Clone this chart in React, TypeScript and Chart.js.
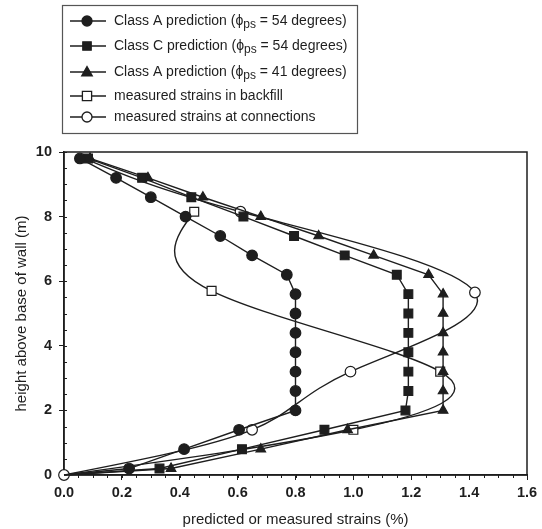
import React, { useEffect, useRef } from "react";
import { Chart, registerables } from "chart.js";

Chart.register(...registerables);

// ---- data ----
const predHeights = [9.8, 9.2, 8.6, 8.0, 7.4, 6.8, 6.2, 5.6, 5.0, 4.4, 3.8, 3.2, 2.6, 2.0, 1.4, 0.8, 0.2, 0];
const classA54 = [0.055, 0.18, 0.3, 0.42, 0.54, 0.65, 0.77, 0.8, 0.8, 0.8, 0.8, 0.8, 0.8, 0.8, 0.605, 0.415, 0.225, 0];
const classC54 = [0.083, 0.27, 0.44, 0.62, 0.795, 0.97, 1.15, 1.19, 1.19, 1.19, 1.19, 1.19, 1.19, 1.18, 0.9, 0.615, 0.33, 0];
const classA41 = [0.09, 0.29, 0.48, 0.68, 0.88, 1.07, 1.26, 1.31, 1.31, 1.31, 1.31, 1.31, 1.31, 1.31, 0.98, 0.68, 0.37, 0];

const backfillStrains = [0, 1.0, 1.3, 0.51, 0.45];
const backfillHeights = [0, 1.4, 3.2, 5.7, 8.15];

const connStrains = [0, 0.65, 0.99, 1.42, 0.61, 0.07];
const connHeights = [0, 1.4, 3.2, 5.65, 8.15, 9.8];

const legendLabels: [string, string, string][] = [
  ["Class A prediction (\u03D5", "ps", " = 54 degrees)"],
  ["Class C prediction (\u03D5", "ps", " = 54 degrees)"],
  ["Class A prediction (\u03D5", "ps", " = 41 degrees)"],
  ["measured strains in backfill", "", ""],
  ["measured strains at connections", "", ""],
];
const legendStyles = ["circle", "rect", "triangle", "rect", "circle"];
const legendFilled = [true, true, true, false, false];

const xTitle = "predicted or measured strains (%)";
const yTitle = "height above base of wall (m)";
const xMin = 0, xMax = 1.6, xStep = 0.2, xMinor = 0.05;
const yMin = 0, yMax = 10, yStep = 2, yMinor = 0.5;

const INK = "#1e1e1e";
const FONT = '"Liberation Sans", Arial, Helvetica, sans-serif';

function pts(xs: number[], ys: number[]) {
  return xs.map((x, i) => ({ x, y: ys[i] }));
}

// natural cubic spline second derivatives (uniform parameter)
function naturalM(v: number[]): number[] {
  const n = v.length;
  const M = new Array(n).fill(0);
  if (n < 3) return M;
  const m = n - 2;
  const c = new Array(m).fill(0);
  const d = new Array(m).fill(0);
  for (let i = 0; i < m; i++) {
    const rhs = 6 * (v[i + 2] - 2 * v[i + 1] + v[i]);
    const denom = 4 - (i > 0 ? c[i - 1] : 0);
    c[i] = 1 / denom;
    d[i] = (rhs - (i > 0 ? d[i - 1] : 0)) / denom;
  }
  for (let i = m - 1; i >= 0; i--) {
    M[i + 1] = d[i] - (i < m - 1 ? c[i] * M[i + 2] : 0);
  }
  return M;
}

function drawSplineThrough(ctx: CanvasRenderingContext2D, px: number[], py: number[]) {
  const n = px.length;
  const Mx = naturalM(px);
  const My = naturalM(py);
  ctx.beginPath();
  ctx.moveTo(px[0], py[0]);
  for (let i = 0; i < n - 1; i++) {
    const d0x = px[i + 1] - px[i] - (2 * Mx[i] + Mx[i + 1]) / 6;
    const d0y = py[i + 1] - py[i] - (2 * My[i] + My[i + 1]) / 6;
    const d1x = px[i + 1] - px[i] + (Mx[i] + 2 * Mx[i + 1]) / 6;
    const d1y = py[i + 1] - py[i] + (My[i] + 2 * My[i + 1]) / 6;
    ctx.bezierCurveTo(px[i] + d0x / 3, py[i] + d0y / 3, px[i + 1] - d1x / 3, py[i + 1] - d1y / 3, px[i + 1], py[i + 1]);
  }
  ctx.stroke();
}

function drawMarker(ctx: CanvasRenderingContext2D, style: string, x: number, y: number, r: number, filled: boolean) {
  ctx.beginPath();
  if (style === "circle") {
    ctx.arc(x, y, r, 0, Math.PI * 2);
  } else if (style === "rect") {
    ctx.rect(x - r, y - r, 2 * r, 2 * r);
  } else {
    ctx.moveTo(x, y - r * 1.1);
    ctx.lineTo(x + r * 1.05, y + r * 0.75);
    ctx.lineTo(x - r * 1.05, y + r * 0.75);
    ctx.closePath();
  }
  ctx.fillStyle = filled ? INK : "#ffffff";
  ctx.fill();
  ctx.lineWidth = 1.3;
  ctx.strokeStyle = INK;
  ctx.stroke();
}

const decorPlugin = {
  id: "decor",
  beforeDatasetsDraw(chart: any) {
    const { ctx, chartArea } = chart;
    const xs = chart.scales.x;
    const ys = chart.scales.y;
    ctx.save();
    ctx.strokeStyle = INK;
    ctx.lineWidth = 1.5;
    ctx.strokeRect(chartArea.left, chartArea.top, chartArea.right - chartArea.left, chartArea.bottom - chartArea.top);
    ctx.lineWidth = 1;
    ctx.beginPath();
    for (let v = xMin; v <= xMax + 1e-9; v += xMinor) {
      const px = Math.round(xs.getPixelForValue(v)) + 0.5;
      ctx.moveTo(px, chartArea.bottom);
      ctx.lineTo(px, chartArea.bottom + 3);
    }
    for (let v = yMin; v <= yMax + 1e-9; v += yMinor) {
      const py = Math.round(ys.getPixelForValue(v)) + 0.5;
      ctx.moveTo(chartArea.left, py);
      ctx.lineTo(chartArea.left + 3, py);
    }
    ctx.stroke();
    ctx.restore();
  },
  beforeDatasetDraw(chart: any, args: any) {
    const ds = chart.data.datasets[args.index];
    if (!ds.smoothCurve) return;
    const meta = chart.getDatasetMeta(args.index);
    const px = meta.data.map((p: any) => p.x);
    const py = meta.data.map((p: any) => p.y);
    const { ctx } = chart;
    ctx.save();
    ctx.strokeStyle = INK;
    ctx.lineWidth = 1.4;
    drawSplineThrough(ctx, px, py);
    ctx.restore();
  },
  afterDraw(chart: any) {
    const { ctx } = chart;
    ctx.save();
    ctx.strokeStyle = "#555";
    ctx.lineWidth = 1.2;
    ctx.strokeRect(62.5, 5.5, 295, 128);
    const rows = [21, 46, 72, 96, 117];
    legendLabels.forEach((parts, i) => {
      const y = rows[i];
      ctx.strokeStyle = INK;
      ctx.lineWidth = 1.3;
      ctx.beginPath();
      ctx.moveTo(70, y);
      ctx.lineTo(106, y);
      ctx.stroke();
      const st = legendStyles[i];
      const filled = legendFilled[i];
      const r = st === "circle" ? 5 : st === "rect" ? (filled ? 4.2 : 4.6) : 5;
      drawMarker(ctx, st, 87, y, r, filled);
      ctx.fillStyle = INK;
      ctx.textBaseline = "middle";
      ctx.textAlign = "left";
      ctx.font = "14px " + FONT;
      let tx = 114;
      ctx.fillText(parts[0], tx, y);
      tx += ctx.measureText(parts[0]).width;
      if (parts[1]) {
        ctx.font = "12px " + FONT;
        ctx.fillText(parts[1], tx, y + 4);
        tx += ctx.measureText(parts[1]).width;
        ctx.font = "14px " + FONT;
        ctx.fillText(parts[2], tx, y);
      }
    });
    ctx.restore();
  },
};

export default function App() {
  const ref = useRef<HTMLCanvasElement | null>(null);

  useEffect(() => {
    if (!ref.current) return;
    const hideAt = (r: number, idx: number) => (c: any) => (c.dataIndex === idx ? 0 : r);
    const common = {
      borderColor: INK,
      pointBorderColor: INK,
      borderWidth: 1.4,
      pointBorderWidth: 1.2,
      clip: false as const,
    };
    const chart = new Chart(ref.current, {
      type: "scatter",
      data: {
        datasets: [
          {
            ...common,
            label: "Class A prediction (phi ps = 54 degrees)",
            data: pts(classA54, predHeights),
            showLine: true,
            pointStyle: "circle",
            pointRadius: hideAt(5.3, classA54.length - 1),
            backgroundColor: INK,
            pointBackgroundColor: INK,
            tension: 0,
          },
          {
            ...common,
            label: "Class C prediction (phi ps = 54 degrees)",
            data: pts(classC54, predHeights),
            showLine: true,
            pointStyle: "rect",
            pointRadius: hideAt(6.2, classC54.length - 1),
            backgroundColor: INK,
            pointBackgroundColor: INK,
            tension: 0,
          },
          {
            ...common,
            label: "Class A prediction (phi ps = 41 degrees)",
            data: pts(classA41, predHeights),
            showLine: true,
            pointStyle: "triangle",
            pointRadius: hideAt(5.5, classA41.length - 1),
            backgroundColor: INK,
            pointBackgroundColor: INK,
            tension: 0,
          },
          {
            ...common,
            label: "measured strains in backfill",
            data: pts(backfillStrains, backfillHeights),
            showLine: false,
            smoothCurve: true,
            pointStyle: "rect",
            pointRadius: hideAt(6.3, 0),
            backgroundColor: "#fff",
            pointBackgroundColor: "#fff",
          },
          {
            ...common,
            label: "measured strains at connections",
            data: pts(connStrains, connHeights),
            showLine: false,
            smoothCurve: true,
            pointStyle: "circle",
            pointRadius: hideAt(5.3, connStrains.length - 1),
            backgroundColor: "#fff",
            pointBackgroundColor: "#fff",
          },
        ],
      },
      options: {
        animation: false,
        responsive: false,
        events: [],
        layout: { padding: { top: 152, right: 15, left: 0, bottom: 0 } },
        plugins: { legend: { display: false }, tooltip: { enabled: false } },
        scales: {
          x: {
            type: "linear",
            min: xMin,
            max: xMax,
            afterFit: (s: any) => { s.height = 54; },
            afterBuildTicks: (s: any) => {
              const t = [];
              for (let v = xMin; v <= xMax + 1e-9; v += xStep) t.push({ value: Math.round(v * 10) / 10 });
              s.ticks = t;
            },
            ticks: {
              callback: (v: any) => Number(v).toFixed(1),
              font: { family: FONT, size: 14.5, weight: "bold" },
              color: INK,
              padding: 4,
              maxRotation: 0,
            },
            grid: { drawOnChartArea: false, drawTicks: true, tickLength: 5, color: INK, lineWidth: 1 },
            border: { display: true, color: INK, width: 1.5 },
            title: { display: true, text: xTitle, font: { family: FONT, size: 15 }, color: INK, padding: { top: 0, bottom: 0 } },
          },
          y: {
            type: "linear",
            min: yMin,
            max: yMax,
            afterFit: (s: any) => { s.width = 64; },
            ticks: {
              stepSize: yStep,
              font: { family: FONT, size: 14.5, weight: "bold" },
              color: INK,
              padding: 7,
            },
            grid: { drawOnChartArea: false, drawTicks: true, tickLength: 5, color: INK, lineWidth: 1 },
            border: { display: true, color: INK, width: 1.5 },
            title: { display: true, text: yTitle, font: { family: FONT, size: 15 }, color: INK, padding: { top: 13, bottom: 0 } },
          },
        },
      },
      plugins: [decorPlugin],
    } as any);
    return () => chart.destroy();
  }, []);

  return (
    <div style={{ position: "absolute", left: 0, top: 0, width: 542, height: 529, background: "#fff" }}>
      <canvas ref={ref} width={542} height={529} style={{ display: "block" }} />
    </div>
  );
}
